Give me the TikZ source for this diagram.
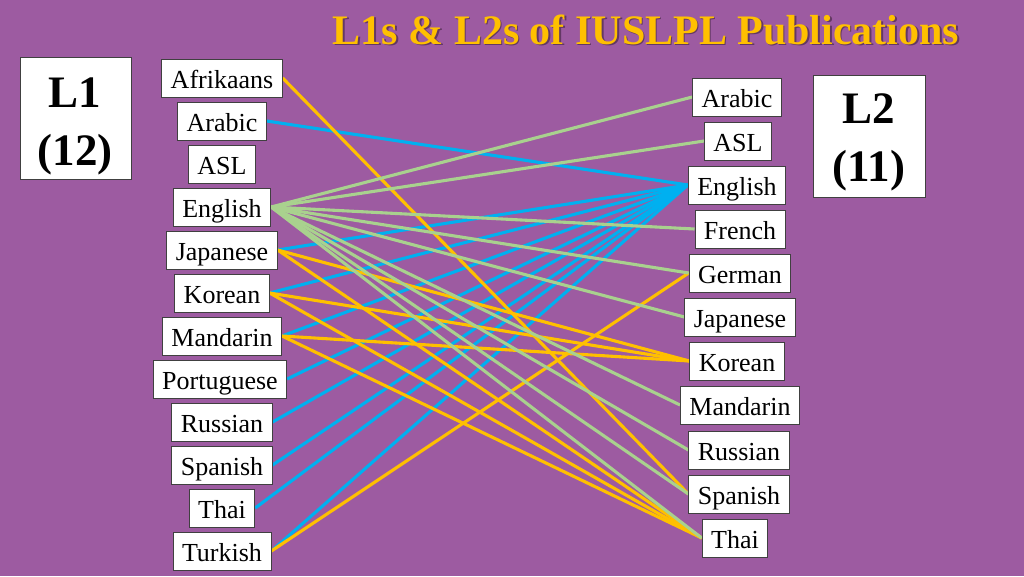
\documentclass[tikz,border=0pt]{standalone}
\usepackage{fontspec}
\setmainfont{Liberation Serif}
\definecolor{bg}{RGB}{157,91,161}
\definecolor{gold}{RGB}{255,192,0}
\definecolor{lblue}{RGB}{0,176,240}
\definecolor{lgreen}{RGB}{169,209,142}
\definecolor{shadowc}{RGB}{85,48,85}
\pgfdeclarelayer{background}
\pgfsetlayers{background,main}
\begin{document}
\begin{tikzpicture}[x=1pt,y=-1pt,
  lang/.style={draw=black!75, line width=0.8pt, fill=white,
    font=\fontsize{26}{28}\selectfont, inner xsep=9pt, inner ysep=0pt,
    minimum height=38pt, text height=25pt, text depth=5pt},
  bigbox/.style={draw=black!75, line width=0.8pt, fill=white, inner sep=0pt},
  bigtxt/.style={font=\fontsize{45}{50}\selectfont\bfseries, anchor=base, inner sep=0pt},
  eo/.style={gold, line width=3.1pt},
  eb/.style={lblue, line width=3.1pt},
  eg/.style={lgreen, line width=3.1pt},
  titlestyle/.style={font=\fontsize{42}{46}\selectfont\bfseries, anchor=base, inner sep=0pt}
]
\begin{pgfonlayer}{background}
\fill[bg] (0,0) rectangle (1024,576);
\end{pgfonlayer}
\useasboundingbox (0,0) rectangle (1024,576);

% title
\node[titlestyle, text=shadowc, opacity=0.8] (titleshadow) at (647.5,45.5) {L1s \& L2s of IUSLPL Publications};
\node[titlestyle, text=gold] (title) at (646,44) {L1s \& L2s of IUSLPL Publications};

% big boxes
\node[bigbox, minimum width=111pt, minimum height=122pt] (L1box) at (75.5,118.5) {};
\node[bigtxt] (L1a) at (75,107) {L1};
\node[bigtxt] (L1b) at (75,165) {(12)};
\node[bigbox, minimum width=112pt, minimum height=122pt] (L2box) at (869.5,136) {};
\node[bigtxt] (L2a) at (869,123) {L2};
\node[bigtxt] (L2b) at (869,181) {(11)};

% left column (L1)
\node[lang] (aAfr) at (222,78) {Afrikaans};
\node[lang] (aAra) at (222,121) {Arabic};
\node[lang] (aASL) at (222,164) {ASL};
\node[lang] (aEng) at (222,207) {English};
\node[lang] (aJap) at (222,250) {Japanese};
\node[lang] (aKor) at (222,293) {Korean};
\node[lang] (aMan) at (222,336) {Mandarin};
\node[lang] (aPor) at (220,379) {Portuguese};
\node[lang] (aRus) at (222,422) {Russian};
\node[lang] (aSpa) at (222,465) {Spanish};
\node[lang] (aTha) at (222,508) {Thai};
\node[lang] (aTur) at (222,551) {Turkish};

% right column (L2)
\node[lang] (bAra) at (737,97) {Arabic};
\node[lang] (bASL) at (738,141) {ASL};
\node[lang] (bEng) at (737,185) {English};
\node[lang] (bFre) at (740,229) {French};
\node[lang] (bGer) at (740,273) {German};
\node[lang] (bJap) at (740,317) {Japanese};
\node[lang] (bKor) at (737,361) {Korean};
\node[lang] (bMan) at (740,405) {Mandarin};
\node[lang] (bRus) at (739,450) {Russian};
\node[lang] (bSpa) at (739,494) {Spanish};
\node[lang] (bTha) at (735,538) {Thai};

% connectors (behind the boxes)
\begin{pgfonlayer}{background}
\draw[eb] (aAra.east) -- (bEng.west);
\foreach \s in {aJap,aKor,aMan,aPor,aRus,aSpa,aTha,aTur}
  \draw[eb] (\s.east) -- (bEng.west);
\draw[eo] (aAfr.east) -- (bSpa.west);
\foreach \s in {aJap,aKor,aMan} {
  \draw[eo] (\s.east) -- (bKor.west);
  \draw[eo] (\s.east) -- (bTha.west);
}
\draw[eo] (aTur.east) -- (bGer.west);
\foreach \t in {bAra,bASL,bFre,bGer,bJap,bMan,bRus,bSpa,bTha}
  \draw[eg] (aEng.east) -- (\t.west);
\end{pgfonlayer}
\end{tikzpicture}
\end{document}
